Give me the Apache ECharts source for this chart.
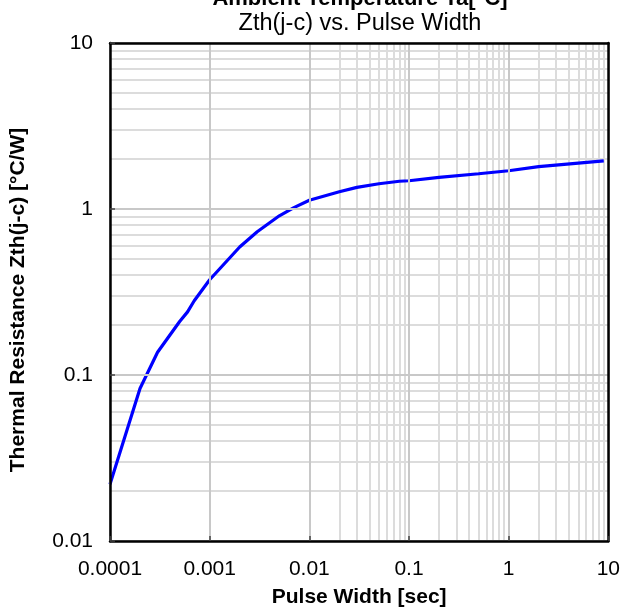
<!DOCTYPE html>
<html>
<head>
<meta charset="utf-8">
<script src="https://cdn.jsdelivr.net/npm/echarts@6/dist/echarts.min.js"></script>
<style>
html,body{margin:0;padding:0;background:#fff;}
#chart{width:623px;height:613px;}
</style>
</head>
<body>
<div id="chart"></div>
<script>
// ---- data ----
var pulseWidth = [0.0001, 0.0002, 0.0003, 0.0005, 0.0006, 0.0007, 0.001, 0.002, 0.003, 0.005, 0.007, 0.01, 0.02, 0.03, 0.05, 0.08, 0.1, 0.2, 0.5, 1, 2, 5, 9];
var zth        = [0.022, 0.083, 0.137, 0.21, 0.24, 0.28, 0.375, 0.59, 0.73, 0.91, 1.02, 1.13, 1.27, 1.35, 1.42, 1.47, 1.48, 1.55, 1.63, 1.70, 1.80, 1.89, 1.95];
var xTickLabels = ['0.0001', '0.001', '0.01', '0.1', '1', '10'];
var yTickLabels = ['0.01', '0.1', '1', '10'];
var titleLine1 = 'Ambient Temperature Ta[°C]';
var titleLine2 = 'Zth(j-c) vs. Pulse Width';
var xName = 'Pulse Width [sec]';
var yName = 'Thermal Resistance Zth(j-c) [°C/W]';

var xMinExp = -4, xMaxExp = 1, yMinExp = -2, yMaxExp = 1;

function minorValues(lo, hi) {
  var out = [];
  for (var e = lo; e < hi; e++) {
    for (var m = 2; m <= 9; m++) out.push(m * Math.pow(10, e));
  }
  return out;
}
var minorX = minorValues(xMinExp, xMaxExp).map(function (v) { return { xAxis: v }; });
var minorY = minorValues(yMinExp, yMaxExp).map(function (v) { return { yAxis: v }; });

var font = '"Liberation Sans", Arial, sans-serif';
var chart = echarts.init(document.getElementById('chart'), null, { renderer: 'canvas' });

var pts = pulseWidth.map(function (x, i) { return [x, zth[i]]; });

function frameAxis(pos) {
  return {
    type: 'log', logBase: 10, position: pos, z: 10,
    min: pos === 'top' ? Math.pow(10, xMinExp) : Math.pow(10, yMinExp),
    max: pos === 'top' ? Math.pow(10, xMaxExp) : Math.pow(10, yMaxExp),
    axisLine: { show: true, lineStyle: { color: '#000', width: 2.5 } },
    axisTick: { show: false }, axisLabel: { show: false }, splitLine: { show: false }
  };
}

chart.setOption({
  animation: false,
  backgroundColor: '#fff',
  grid: { left: 110, right: 13, top: 43, bottom: 71, show: false },
  graphic: [
    { type: 'text', x: 360, y: -1, style: { text: titleLine1, fill: '#000', font: 'bold 22px ' + font, textAlign: 'center', textVerticalAlign: 'middle' } },
    { type: 'text', x: 360, y: 24, style: { text: titleLine2, fill: '#000', font: '23.5px ' + font, textAlign: 'center', textVerticalAlign: 'middle' } }
  ],
  xAxis: [{
    type: 'log', logBase: 10, min: Math.pow(10, xMinExp), max: Math.pow(10, xMaxExp), z: 10,
    name: xName, nameLocation: 'middle', nameGap: 46,
    nameTextStyle: { fontFamily: font, fontWeight: 'bold', fontSize: 21, color: '#000' },
    axisLine: { show: true, lineStyle: { color: '#000', width: 2.5 } },
    axisTick: { show: true, inside: true, length: 5, lineStyle: { color: '#444', width: 1.5 } },
    axisLabel: { margin: 18, fontFamily: font, fontSize: 21, color: '#000',
      formatter: function (v) { return xTickLabels[Math.round(Math.log10(v)) - xMinExp]; } },
    splitLine: { show: true, lineStyle: { color: '#c8c8c8', width: 2 } }
  }, frameAxis('top')],
  yAxis: [{
    type: 'log', logBase: 10, min: Math.pow(10, yMinExp), max: Math.pow(10, yMaxExp), z: 10,
    name: yName, nameLocation: 'middle', nameGap: 81, nameRotate: 90,
    nameTextStyle: { fontFamily: font, fontWeight: 'bold', fontSize: 21, color: '#000', padding: [0, 16, 0, 0] },
    axisLine: { show: true, lineStyle: { color: '#000', width: 2.5 } },
    axisTick: { show: true, inside: true, length: 5, lineStyle: { color: '#444', width: 1.5 } },
    axisLabel: { margin: 17, fontFamily: font, fontSize: 21, color: '#000',
      formatter: function (v) { return yTickLabels[Math.round(Math.log10(v)) - yMinExp]; } },
    splitLine: { show: true, lineStyle: { color: '#c8c8c8', width: 2 } }
  }, frameAxis('right')],
  series: [
    {
      type: 'line', data: [], z: 1, silent: true,
      markLine: {
        z: 1, silent: true, symbol: ['none', 'none'], animation: false,
        label: { show: false },
        lineStyle: { color: '#dcdcdc', width: 2, type: 'solid' },
        emphasis: { disabled: true },
        data: minorX.concat(minorY)
      }
    },
    {
      type: 'line', data: pts, z: 5, showSymbol: false, symbol: 'none', smooth: false,
      lineStyle: { color: '#0000ff', width: 3.2 }
    }
  ]
});
</script>
</body>
</html>
